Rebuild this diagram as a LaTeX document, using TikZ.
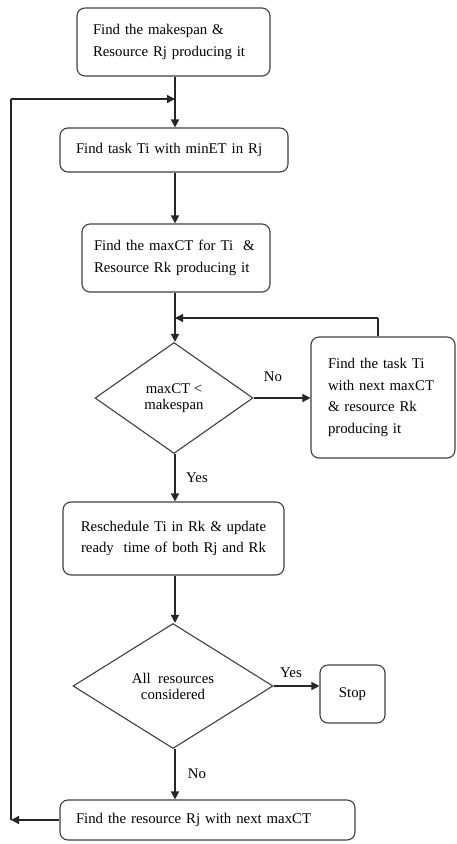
\documentclass[tikz,border=0pt]{standalone}
\usepackage{fontspec}
\setmainfont{Liberation Serif}
\usetikzlibrary{shapes.geometric,arrows.meta}
\begin{document}
\begin{tikzpicture}[x=1pt,y=-1pt,
  font=\fontsize{14.8}{21.5}\selectfont,
  box/.style={draw=black!75, rounded corners=8pt, line width=1.1pt, inner sep=0pt, align=left},
  dia/.style={draw=black!75, diamond, line width=1.1pt, inner sep=0pt, align=center, font=\fontsize{14.8}{16}\selectfont},
  arr/.style={-{Triangle[length=8pt,width=8pt]}, line width=1.3pt, draw=black!85},
  ln/.style={line width=1.3pt, draw=black!85},
  lbl/.style={inner sep=0pt}]
\useasboundingbox[fill=white] (0,0) rectangle (457,844);

\node[box, minimum width=193pt, minimum height=68pt, text width=161pt] (b1) at (173.5,42) {Find the makespan \&\\Resource Rj producing it};
\node[box, minimum width=228pt, minimum height=44pt, text width=196pt] (b2) at (174,150) {Find task Ti with minET in Rj};
\node[box, minimum width=188pt, minimum height=68pt, text width=164pt] (b3) at (176,258) {\mbox{Find the maxCT for Ti~~\&}\\Resource Rk producing it};
\node[dia, minimum width=158pt, minimum height=111pt] (d1) at (174,398) {maxCT <\\makespan};
\node[box, minimum width=144pt, minimum height=121pt, text width=110pt] (rb) at (383,397.5) {Find the task Ti\\with next maxCT\\\& resource Rk\\producing it};
\node[box, minimum width=221pt, minimum height=73pt, text width=200pt, align=center] (b4) at (173.5,538.5) {Reschedule Ti in Rk \& update\\ready~~time of both Rj and Rk};
\node[dia, minimum width=200pt, minimum height=125pt] (d2) at (173,686) {All~~resources\\considered};
\node[box, minimum width=65pt, minimum height=58pt, align=center] (stop) at (352.5,694) {Stop};
\node[box, minimum width=295pt, minimum height=40pt, text width=263pt] (b5) at (207.5,820) {Find the resource Rj with next maxCT};

\coordinate (fbBL) at (11,820);
\coordinate (fbTL) at (11,99);
\coordinate (fbTR) at (175,99);
\coordinate (lpR) at (378,318);
\coordinate (lpL) at (175,318);

\draw[arr] (b1.south -| fbTR) -- (b2.north -| fbTR);
\draw[arr] (b2.south -| fbTR) -- (b3.north -| fbTR);
\draw[arr] (b3.south -| fbTR) -- (d1.north -| fbTR);
\draw[arr] (d1.east) -- (d1.east -| rb.west);
\draw[ln] (rb.north -| lpR) -- (lpR);
\draw[arr] (lpR) -- (lpL);
\draw[arr] (d1.south -| fbTR) -- (b4.north -| fbTR);
\draw[arr] (b4.south -| fbTR) -- (d2.north -| fbTR);
\draw[arr] (d2.east) -- (d2.east -| stop.west);
\draw[arr] (d2.south -| fbTR) -- (b5.north -| fbTR);
\draw[arr] (b5.west) -- (fbBL);
\draw[ln] (fbBL) -- (fbTL);
\draw[arr] (fbTL) -- (fbTR);

\node[lbl] (no1) at (273,377) {No};
\node[lbl] (yes1) at (197,478) {Yes};
\node[lbl] (yes2) at (291,673) {Yes};
\node[lbl] (no2) at (197,774) {No};
\end{tikzpicture}
\end{document}
